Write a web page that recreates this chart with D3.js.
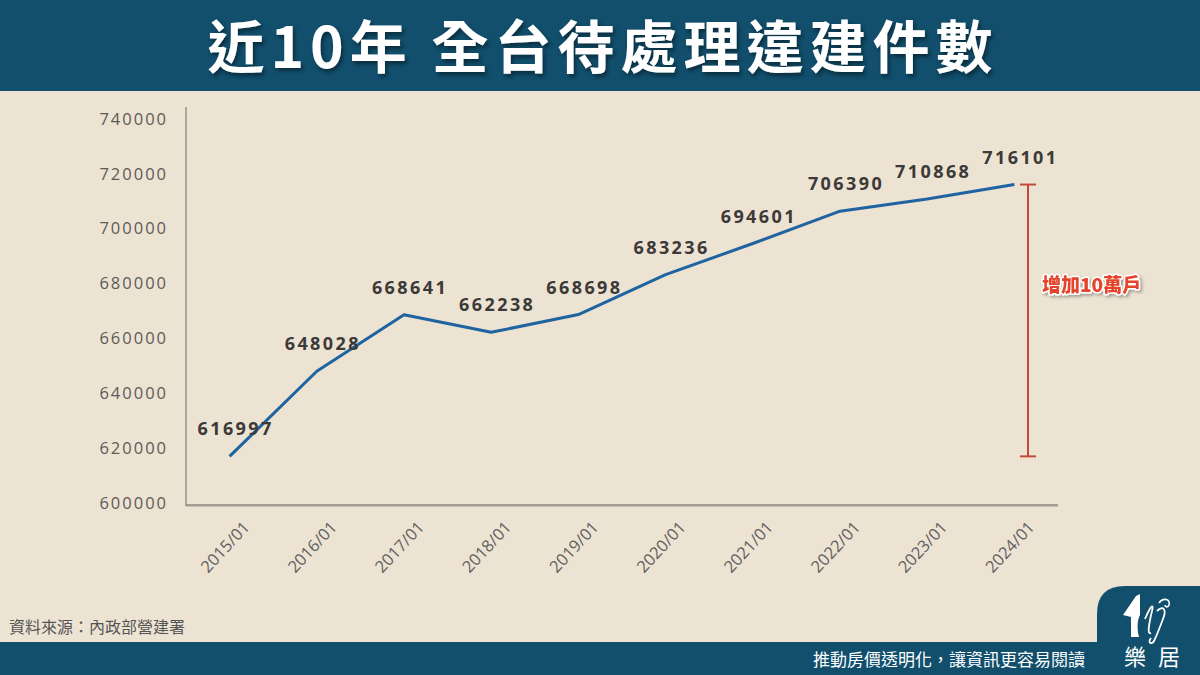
<!DOCTYPE html>
<html><head><meta charset="utf-8">
<script src="https://cdn.jsdelivr.net/npm/d3@7"></script>
<style>
html,body{margin:0;padding:0;background:#ede3d3;}
svg{display:block;}
</style></head>
<body>
<svg id="c" width="1200" height="675"></svg>
<script>
const categories = ["2015/01","2016/01","2017/01","2018/01","2019/01","2020/01","2021/01","2022/01","2023/01","2024/01"];
const values = [616997,648028,668641,662238,668698,683236,694601,706390,710868,716101];
const yTicks = [600000,620000,640000,660000,680000,700000,720000,740000];
const titleText = "近10年 全台待處理違建件數";
const annotationText = "增加10萬戶";
const sourceText = "資料來源：內政部營建署";
const sloganText = "推動房價透明化，讓資訊更容易閱讀";
const logoText = "樂居";

const W = 1200, H = 675;
const navy = "#114f6d";
const bg = "#ede3d3";
const svg = d3.select("#c");
const defs = svg.append("defs");
const f1 = defs.append("filter").attr("id","tshadow").attr("x","-10%").attr("y","-30%").attr("width","120%").attr("height","160%");
f1.append("feDropShadow").attr("dx",2).attr("dy",3).attr("stdDeviation",2).attr("flood-color","#000").attr("flood-opacity",0.45);
const f2 = defs.append("filter").attr("id","ashadow").attr("x","-10%").attr("y","-30%").attr("width","130%").attr("height","170%");
f2.append("feDropShadow").attr("dx",2).attr("dy",2).attr("stdDeviation",1.5).attr("flood-color","#000").attr("flood-opacity",0.3);

svg.append("rect").attr("width",W).attr("height",H).attr("fill",bg);
// header
svg.append("rect").attr("x",0).attr("y",0).attr("width",W).attr("height",91).attr("fill",navy);
svg.append("text").attr("x",600).attr("y",68).attr("text-anchor","middle")
  .attr("font-family","'Noto Sans CJK TC','Noto Sans',sans-serif").attr("font-weight",700)
  .attr("font-size",57).attr("letter-spacing","6px").attr("fill","#fff").attr("filter","url(#tshadow)")
  .attr("dx","3").text(titleText);

// footer
svg.append("rect").attr("x",0).attr("y",642).attr("width",W).attr("height",33).attr("fill",navy);
svg.append("path").attr("d","M1097,642 L1097,614 Q1097,586 1125,586 L1200,586 L1200,675 L1097,675 Z").attr("fill",navy);
svg.append("text").attr("x",1085).attr("y",666).attr("text-anchor","end")
  .attr("font-family","'Noto Sans CJK TC',sans-serif").attr("font-size",17).attr("fill","#fff")
  .text(sloganText);
svg.append("text").attr("x",9).attr("y",633)
  .attr("font-family","'Noto Sans CJK TC',sans-serif").attr("font-size",16).attr("fill","#555")
  .text(sourceText);
// logo
const lg = svg.append("g").attr("transform","translate(1123,593)");
lg.append("path").attr("d","M0,22 L13,3 L17,1 L17,22 C14,28 14,36 16,44 L8,44 L8,24 Z").attr("fill","#fff");
lg.append("path").attr("d","M22,26 C28,12 32,8 28,22 C26,32 24,42 28,40 M34,18 C40,12 44,16 40,26 C37,34 34,42 31,48 C29,52 24,50 28,45")
  .attr("fill","none").attr("stroke","#fff").attr("stroke-width",1.8);
lg.append("path").attr("d","M36,10 C40,4 48,6 46,12 C45,15 42,14 42,12").attr("fill","none").attr("stroke","#fff").attr("stroke-width",1.6);
svg.append("text").attr("x",1152).attr("y",665).attr("text-anchor","middle")
  .attr("font-family","'Noto Sans CJK TC',sans-serif").attr("font-weight",400).attr("font-size",22).attr("letter-spacing","12px").attr("fill","#fff")
  .attr("dx","6").text(logoText);

// chart
const x0 = 186, x1 = 1058, yTop = 107, yBot = 505;
const x = d3.scalePoint().domain(categories).range([x0, x1]).padding(0.5);
const y = d3.scaleLinear().domain([600000,740000]).range([503,119]);

// axes lines
svg.append("line").attr("x1",x0).attr("x2",x0).attr("y1",yTop).attr("y2",yBot+1).attr("stroke","#8a857d").attr("stroke-width",1.3);
svg.append("line").attr("x1",x0).attr("x2",x1).attr("y1",yBot).attr("y2",yBot).attr("stroke","#8a857d").attr("stroke-width",1.3);
svg.append("line").attr("x1",x0).attr("x2",x1).attr("y1",yBot+1.5).attr("y2",yBot+1.5).attr("stroke","#c9c0b2").attr("stroke-width",1);

const yAxis = d3.axisLeft(y).tickValues(yTicks).tickSize(0).tickPadding(0).tickFormat(d3.format("d"));
const gy = svg.append("g").attr("transform","translate(166,0)").call(yAxis);
gy.select(".domain").remove();
gy.selectAll("text").attr("font-family","'Open Sans','Noto Sans',sans-serif").attr("font-size",16.5)
  .attr("letter-spacing","2px").attr("fill","#5c5a57").attr("dx","2");

const xAxis = d3.axisBottom(x).tickSize(0).tickPadding(0);
const gx = svg.append("g").attr("transform",`translate(0,${yBot})`).call(xAxis);
gx.select(".domain").remove();
gx.selectAll("text").attr("font-family","'Open Sans','Noto Sans',sans-serif").attr("font-size",16.5)
  .attr("fill","#5f5f5f").attr("text-anchor","middle").attr("dy","0.35em")
  .attr("transform","translate(-5,42) rotate(-47)");

// line
const line = d3.line().x((d,i)=>x(categories[i])).y(d=>y(d));
svg.append("path").datum(values).attr("d",line).attr("fill","none").attr("stroke","#1f64a0").attr("stroke-width",3).attr("stroke-linejoin","round");

// data labels
svg.append("g").selectAll("text").data(values).join("text")
  .attr("x",(d,i)=>x(categories[i])+6).attr("y",d=>y(d)-21)
  .attr("text-anchor","middle").attr("font-family","'Open Sans','Noto Sans',sans-serif")
  .attr("font-weight",700).attr("font-size",18).attr("letter-spacing","2.4px").attr("fill","#3b3a38")
  .text(d=>d);

// bracket annotation
const vMin = d3.min(values), vMax = d3.max(values);
const bx = 1028;
const br = svg.append("g").attr("stroke","#c24a38").attr("stroke-width",2);
br.append("line").attr("x1",bx).attr("x2",bx).attr("y1",y(vMax)).attr("y2",y(vMin));
br.append("line").attr("x1",bx-8).attr("x2",bx+8).attr("y1",y(vMax)).attr("y2",y(vMax));
br.append("line").attr("x1",bx-8).attr("x2",bx+8).attr("y1",y(vMin)).attr("y2",y(vMin));
svg.append("text").attr("x",1042).attr("y",292)
  .attr("font-family","'Noto Sans CJK TC',sans-serif").attr("font-weight",900).attr("font-size",19)
  .attr("fill","#e5452c").attr("stroke","#fff").attr("stroke-width",3).attr("paint-order","stroke")
  .attr("stroke-linejoin","round").attr("filter","url(#ashadow)")
  .text(annotationText);
</script>
</body></html>
